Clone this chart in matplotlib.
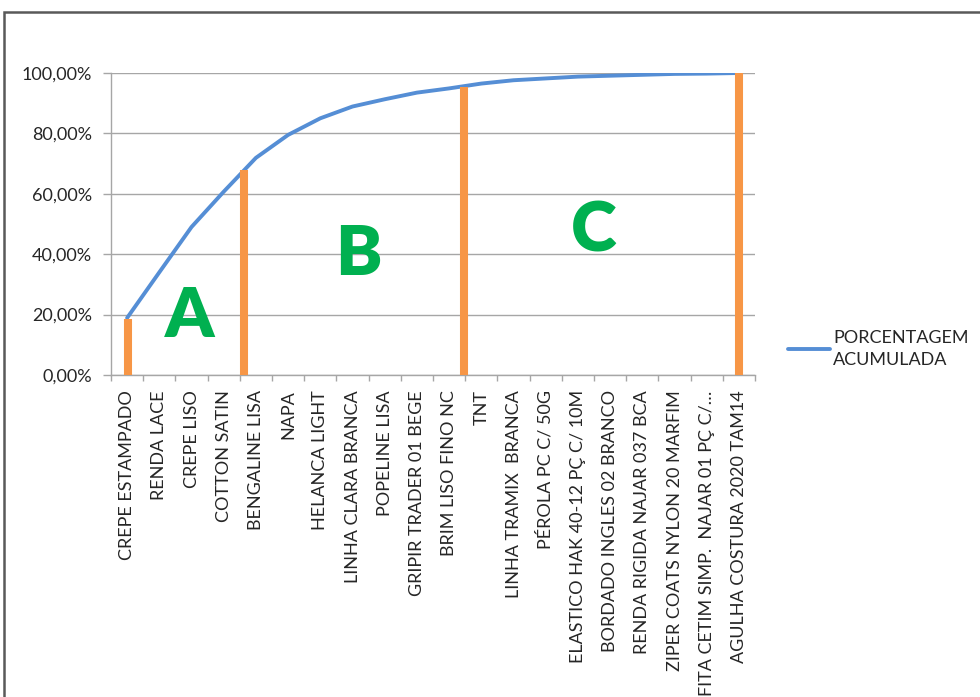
import matplotlib
matplotlib.use("Agg")
import matplotlib.pyplot as plt
from matplotlib.patches import Rectangle
from matplotlib.ticker import FuncFormatter, FixedLocator

plt.rcParams['font.family'] = ['Lato', 'DejaVu Sans']

categories = [
    "CREPE ESTAMPADO", "RENDA LACE", "CREPE LISO", "COTTON SATIN",
    "BENGALINE LISA", "NAPA", "HELANCA LIGHT", "LINHA CLARA BRANCA",
    "POPELINE LISA", "GRIPIR TRADER 01 BEGE", "BRIM LISO FINO NC", "TNT",
    "LINHA TRAMIX  BRANCA", "PÉROLA PC C/ 50G", "ELASTICO HAK 40-12 PÇ C/ 10M",
    "BORDADO INGLES 02 BRANCO", "RENDA RIGIDA NAJAR 037 BCA",
    "ZIPER COATS NYLON 20 MARFIM", "FITA CETIM SIMP.  NAJAR 01 PÇ C/…",
    "AGULHA COSTURA 2020 TAM14",
]
cumulative = [18.9, 34.0, 49.0, 60.7, 71.9, 79.5, 85.0, 88.9, 91.3, 93.5,
              94.9, 96.5, 97.6, 98.2, 98.8, 99.1, 99.4, 99.7, 99.8, 100.0]

# class divider markers (category position, height in %)
divider_pos = [0.02, 3.64, 10.45, 19.0]
divider_top = [18.5, 67.9, 95.5, 100.0]

class_labels = ["A", "B", "C"]
class_x = [1.93, 7.19, 14.48]
class_y = [12.7, 33.1, 41.0]

series_name = "PORCENTAGEM\nACUMULADA"

fig = plt.figure(figsize=(9.8, 6.97), dpi=100)
ax = fig.add_axes([111/980, 1-375/697, (755-111)/980, (375-73)/697])

grid_c = "#A6A6A6"
fs = 13
x = list(range(len(categories)))
line, = ax.plot(x, cumulative, color="#558ED5", lw=2.8, zorder=3,
                solid_capstyle="round", solid_joinstyle="round", label=series_name)

ax.vlines(divider_pos, 0, divider_top, color="#F79646", lw=5.8, zorder=4)

for lab, cx, cy in zip(class_labels, class_x, class_y):
    ax.text(cx, cy, lab, color="#00B050", fontsize=50, fontweight="heavy",
            ha="center", va="baseline", zorder=5)

ax.set_xlim(-0.5, len(categories) - 0.5)
ax.set_ylim(0, 100)
ax.set_yticks([0, 20, 40, 60, 80, 100])
ax.yaxis.set_major_formatter(FuncFormatter(lambda v, p: f"{v:.2f}%".replace(".", ",")))
ax.grid(axis="y", color=grid_c, lw=1.0, zorder=0)
ax.set_axisbelow(True)

ax.set_xticks(x)
ax.set_xticklabels(categories, rotation=90, ha="center", va="top")
ax.xaxis.set_minor_locator(FixedLocator([i - 0.5 for i in range(len(categories) + 1)]))
ax.tick_params(axis="x", which="major", length=0, pad=11, labelsize=fs)
ax.tick_params(axis="x", which="minor", length=4, width=1, color=grid_c, direction="out")
ax.tick_params(axis="y", length=5.5, width=1, color=grid_c, pad=8, labelsize=fs)
for lbl in ax.get_xticklabels() + ax.get_yticklabels():
    lbl.set_color("#262626")

for s in ["top", "right"]:
    ax.spines[s].set_visible(False)
for s in ["left", "bottom"]:
    ax.spines[s].set_color(grid_c)
    ax.spines[s].set_linewidth(1.0)

leg = fig.legend(handles=[line], labels=[series_name], loc="center left",
                 bbox_to_anchor=(772/980, 1-349/697), frameon=False,
                 fontsize=fs, handlelength=2.3, handletextpad=0.2,
                 labelcolor="#262626")
for t in leg.get_texts():
    t.set_linespacing(1.45)

fig.patches.append(Rectangle((4/980, -0.2), 1.2, 1.2 - 12/697,
                             transform=fig.transFigure, fill=False,
                             ec="#595959", lw=1.8))

fig.savefig("out.png", dpi=100)
